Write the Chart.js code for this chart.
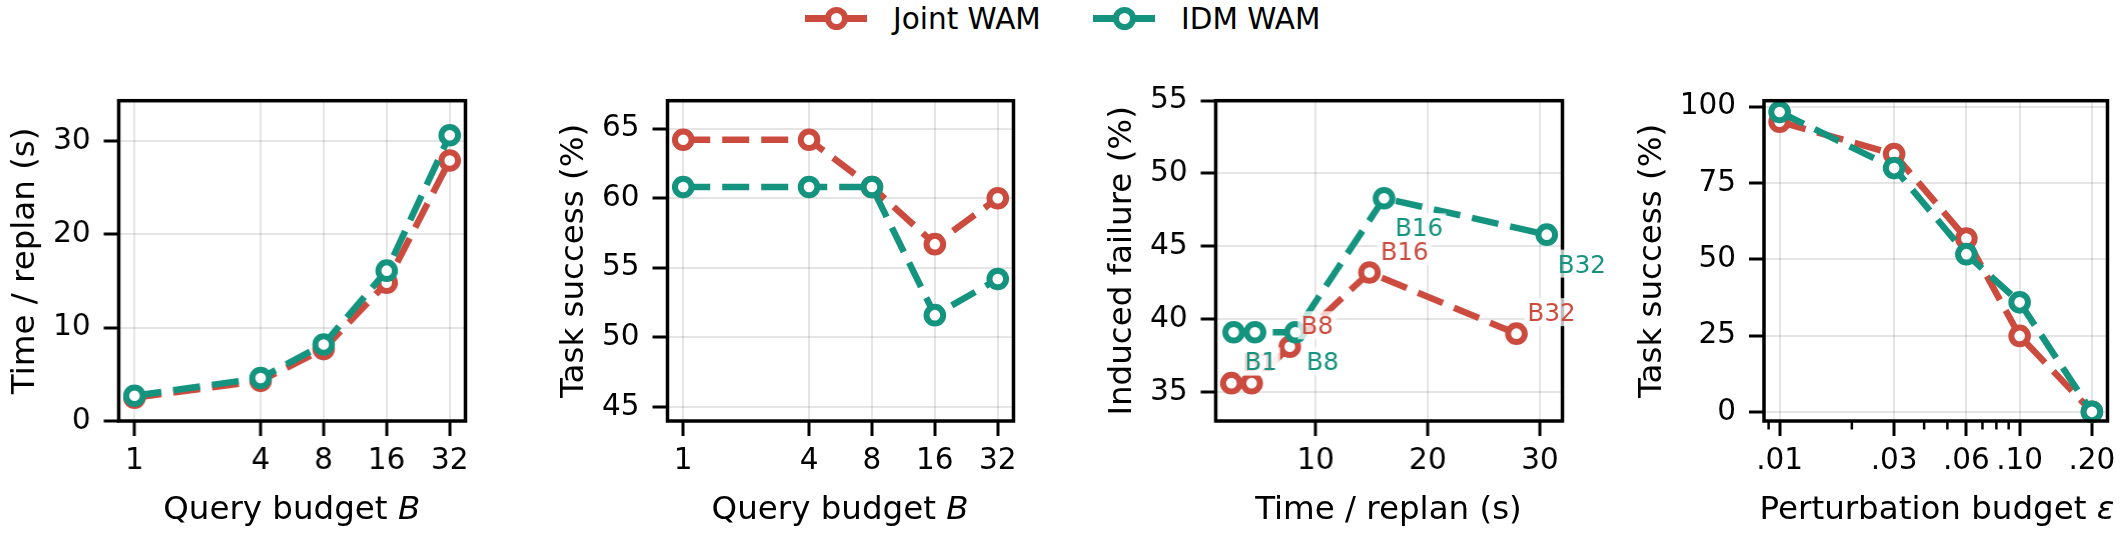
<!DOCTYPE html>
<html lang="en">
<head>
    <meta charset="UTF-8" />
    <title>Joint WAM vs IDM WAM</title>
    <script src="https://cdn.jsdelivr.net/npm/chart.js"></script>
    <style>
        body { margin: 0; width: 2124px; height: 536px; background: #fff; position: relative; overflow: hidden;
               font-family: "DejaVu Sans", sans-serif; color: #000; }
        .panel { position: absolute; top: 0; height: 536px; }
        .xtitle { position: absolute; top: 490px; width: 460px; text-align: center; font-size: 32.5px;
                  line-height: 36px; white-space: nowrap; }
        .lg-line { position: absolute; top: 15px; width: 62px; height: 6.5px; }
        .lg-dot { position: absolute; top: 6.8px; width: 11px; height: 11px; border: 6px solid; border-radius: 50%; background: #fff; }
        .lg-text { position: absolute; top: 1px; font-size: 29.5px; line-height: 36px; white-space: nowrap; }
    </style>
</head>
<body>
    <div id="legend"></div>

    <script>
    // --- data ---
    const seriesNames = ['Joint WAM', 'IDM WAM'];
    const seriesColors = ['#CC4B3F', '#14937F'];

    const budgets = [1, 4, 8, 16, 32];
    const budgetTickLabels = ['1', '4', '8', '16', '32'];
    const epsValues = [0.01, 0.03, 0.06, 0.10, 0.20];
    const epsTickLabels = ['.01', '.03', '.06', '.10', '.20'];
    const epsMinorTicks = [0.009, 0.02, 0.04, 0.05, 0.07, 0.08, 0.09];

    const jointTime = [2.5, 4.3, 7.7, 14.8, 27.9];
    const idmTime = [2.7, 4.6, 8.2, 16.1, 30.6];
    const jointSuccess = [64.2, 64.2, 60.8, 56.7, 60.0];
    const idmSuccess = [60.8, 60.8, 60.8, 51.6, 54.2];
    const jointFailure = [35.6, 35.6, 38.1, 43.2, 39.0];
    const idmFailure = [39.1, 39.1, 39.1, 48.3, 45.8];
    const jointRobust = [95.1, 84.5, 56.8, 24.9, 0];
    const idmRobust = [98.3, 79.9, 51.7, 35.9, 0];
    const pointTags = ['B1', '', 'B8', 'B16', 'B32'];

    const timeTicks = [0, 10, 20, 30];
    const successTicks = [45, 50, 55, 60, 65];
    const failureTicks = [35, 40, 45, 50, 55];
    const failureXTicks = [10, 20, 30];
    const robustTicks = [0, 25, 50, 75, 100];

    // --- layout ---
    const PLOT_W = 346, PLOT_TOP = 100.7, PLOT_BOTTOM = 421, H = 536;
    const plotLefts = [118.7, 667.1, 1215.5, 1764];
    const titleGaps = [93, 93, 93, 111.5];
    const rightPads = [30, 30, 50, 14];
    const TITLE_SIZE = 32.5;

    Chart.defaults.font.family = "'DejaVu Sans', sans-serif";
    Chart.defaults.font.size = 29.5;
    Chart.defaults.color = '#000';

    // legend
    const legend = document.getElementById('legend');
    const legendX = [805, 1093];
    seriesNames.forEach((name, i) => {
        const x = legendX[i];
        legend.insertAdjacentHTML('beforeend',
            `<div class="lg-line" style="left:${x}px;background:${seriesColors[i]}"></div>` +
            `<div class="lg-dot" style="left:${x + 31 - 11.5}px;border-color:${seriesColors[i]}"></div>` +
            `<span class="lg-text" style="left:${x + 88}px">${name}</span>`);
    });

    function pts(xs, ys) { return xs.map((x, i) => ({ x: x, y: ys[i] })); }

    const framePlugin = {
        id: 'frame',
        afterDatasetsDraw(chart, args, opts) {
            const ctx = chart.ctx, a = chart.chartArea;
            ctx.save();
            // minor ticks
            if (opts.minor) {
                const xs = chart.scales.x;
                ctx.strokeStyle = '#000';
                ctx.lineWidth = 2.5;
                opts.minor.forEach(v => {
                    const px = xs.getPixelForValue(v);
                    ctx.beginPath();
                    ctx.moveTo(px, a.bottom);
                    ctx.lineTo(px, a.bottom + 8.5);
                    ctx.stroke();
                });
            }
            ctx.strokeStyle = '#000';
            ctx.lineWidth = 3.5;
            ctx.strokeRect(a.left, a.top, a.right - a.left, a.bottom - a.top);
            // point tags
            if (opts.tags) {
                ctx.font = '24.5px "DejaVu Sans"';
                ctx.textBaseline = 'alphabetic';
                const offs = [[11, -12.5], [11, 38]];
                [0, 1].forEach(s => {
                    const meta = chart.getDatasetMeta(s);
                    meta.data.forEach((p, i) => {
                        const tag = opts.tags[i];
                        if (!tag) return;
                        const x = p.x + offs[s][0], y = p.y + offs[s][1];
                        const w = ctx.measureText(tag).width;
                        ctx.fillStyle = 'rgba(255,255,255,0.75)';
                        ctx.fillRect(x - 3, y - 23, w + 6, 28);
                        ctx.fillStyle = seriesColors[s];
                        ctx.fillText(tag, x, y);
                    });
                });
            }
            ctx.restore();
        }
    };

    function lineSet(label, color, data, order) {
        return {
            label: label, data: data, order: order,
            borderColor: color, borderWidth: 6.5, borderDash: [27, 12], borderCapStyle: 'butt',
            pointRadius: 8.3, pointHoverRadius: 8.3, pointBorderWidth: 6,
            pointBackgroundColor: '#fff', pointBorderColor: color,
            tension: 0, fill: false, clip: false
        };
    }

    function makePanel(i, p) {
        const left = plotLefts[i] - titleGaps[i] - TITLE_SIZE * 0.6;
        const right = plotLefts[i] + PLOT_W + rightPads[i];
        const div = document.createElement('div');
        div.className = 'panel';
        div.style.left = left + 'px';
        div.style.width = (right - left) + 'px';
        const cv = document.createElement('canvas');
        div.appendChild(cv);
        document.body.appendChild(div);

        const xt = document.createElement('div');
        xt.className = 'xtitle';
        xt.style.left = (plotLefts[i] + PLOT_W / 2 - 230) + 'px';
        xt.innerHTML = p.xTitle;
        document.body.appendChild(xt);

        const yWidth = plotLefts[i] - left;
        const grid = { color: 'rgba(0,0,0,0.1)', lineWidth: 2, tickColor: '#000', tickWidth: 3, tickLength: 15 };

        return new Chart(cv, {
            type: 'line',
            data: {
                datasets: [
                    lineSet(seriesNames[0], seriesColors[0], p.joint, 1),
                    lineSet(seriesNames[1], seriesColors[1], p.idm, 0)
                ]
            },
            options: {
                responsive: true,
                maintainAspectRatio: false,
                devicePixelRatio: 1,
                animation: false,
                events: [],
                layout: { padding: { top: PLOT_TOP, right: rightPads[i], bottom: 0, left: 0 } },
                plugins: {
                    legend: { display: false },
                    tooltip: { enabled: false },
                    frame: { minor: p.minor || null, tags: p.tags || null }
                },
                scales: {
                    x: {
                        type: p.xType, min: p.xMin, max: p.xMax,
                        border: { display: false },
                        grid: grid,
                        ticks: {
                            padding: 8, maxRotation: 0, autoSkip: false,
                            callback: (v, k) => p.xLabels[k]
                        },
                        afterBuildTicks: s => { s.ticks = p.xTicks.map(v => ({ value: v })); },
                        afterFit: s => { s.height = H - PLOT_BOTTOM; }
                    },
                    y: {
                        type: 'linear', min: p.yMin, max: p.yMax,
                        border: { display: false },
                        grid: grid,
                        ticks: { padding: 13, callback: v => String(v) },
                        afterBuildTicks: s => { s.ticks = p.yTicks.map(v => ({ value: v })); },
                        afterFit: s => { s.width = yWidth; },
                        title: { display: true, text: p.yTitle, font: { size: TITLE_SIZE }, padding: { top: 0, bottom: 0 } }
                    }
                }
            },
            plugins: [framePlugin]
        });
    }

    makePanel(0, {
        xType: 'logarithmic', xMin: Math.pow(2, -0.25), xMax: Math.pow(2, 5.25),
        xTicks: budgets, xLabels: budgetTickLabels,
        yMin: 0, yMax: 34.3, yTicks: timeTicks,
        yTitle: 'Time / replan (s)', xTitle: 'Query budget <i>B</i>',
        joint: pts(budgets, jointTime), idm: pts(budgets, idmTime)
    });

    makePanel(1, {
        xType: 'logarithmic', xMin: Math.pow(2, -0.25), xMax: Math.pow(2, 5.25),
        xTicks: budgets, xLabels: budgetTickLabels,
        yMin: 44, yMax: 67, yTicks: successTicks,
        yTitle: 'Task success (%)', xTitle: 'Query budget <i>B</i>',
        joint: pts(budgets, jointSuccess), idm: pts(budgets, idmSuccess)
    });

    makePanel(2, {
        xType: 'linear', xMin: 1.1, xMax: 32.0,
        xTicks: failureXTicks, xLabels: failureXTicks.map(String),
        yMin: 33, yMax: 55, yTicks: failureTicks,
        yTitle: 'Induced failure (%)', xTitle: 'Time / replan (s)',
        joint: pts(jointTime, jointFailure), idm: pts(idmTime, idmFailure),
        tags: pointTags
    });

    makePanel(3, {
        xType: 'logarithmic', xMin: Math.pow(10, -2.065), xMax: Math.pow(10, -0.634),
        xTicks: epsValues, xLabels: epsTickLabels,
        yMin: -3, yMax: 102, yTicks: robustTicks,
        yTitle: 'Task success (%)', xTitle: 'Perturbation budget <i>ε</i>',
        joint: pts(epsValues, jointRobust), idm: pts(epsValues, idmRobust),
        minor: epsMinorTicks
    });
    </script>
</body>
</html>
